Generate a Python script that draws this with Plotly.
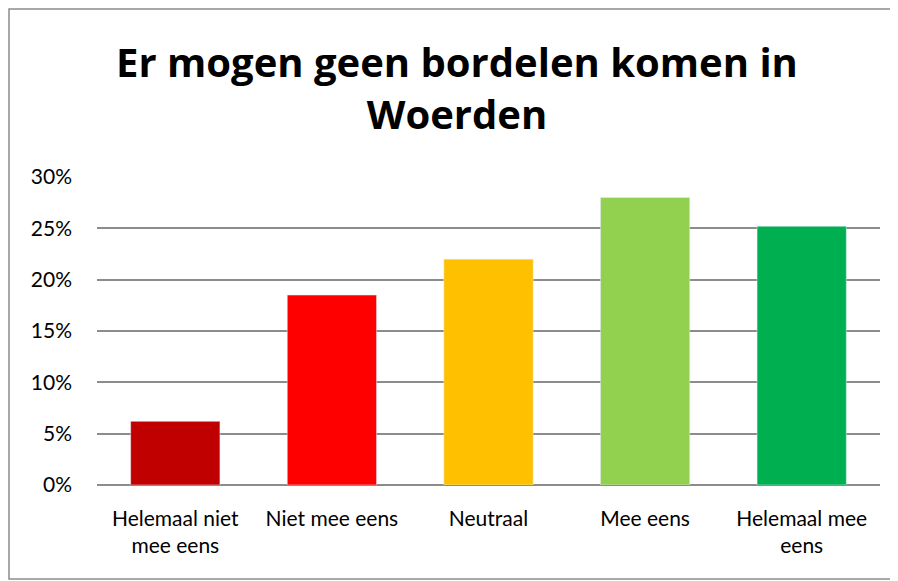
import plotly.graph_objects as go

categories = ["Helemaal niet<br>mee eens", "Niet mee eens", "Neutraal", "Mee eens", "Helemaal mee<br>eens"]
values = [0.062, 0.185, 0.220, 0.280, 0.252]
colors = ["#C00000", "#FF0000", "#FFC000", "#92D050", "#00B050"]
y_ticks = [0, 0.05, 0.10, 0.15, 0.20, 0.25, 0.30]
y_labels = ["0%", "5%", "10%", "15%", "20%", "25%", "30%"]

# page has an 8px body margin, so figure coords = screen coords - 8
W, H = 898, 581
L, R, T, B = 89, 26, 169, 104
pw, ph = W - L - R, H - T - B


def px_x(x):
    return (x - L) / pw


def px_y(y):
    return (H - B - y) / ph


fig = go.Figure(go.Bar(x=categories, y=values, marker_color=colors, width=0.57))

fig.update_layout(
    width=W, height=H,
    margin=dict(l=L, r=R, t=T, b=B),
    plot_bgcolor="white", paper_bgcolor="white",
    font=dict(family="Lato", color="#000000"),
    title=dict(
        text="<b>Er mogen geen bordelen komen in<br>Woerden</b>",
        x=0.5, xanchor="center", y=1 - 69 / H, yanchor="middle",
        font=dict(size=40, family="Open Sans", color="#000000"),
    ),
    showlegend=False,
    bargap=0.43,
)
fig.update_xaxes(
    showgrid=False, showline=False, ticks="",
    tickfont=dict(size=21, family="Lato"),
    ticklabelstandoff=19,
)
fig.update_yaxes(
    range=[0, 0.30], tickvals=y_ticks, ticktext=y_labels,
    showgrid=True, gridcolor="#8C8C8C", gridwidth=1.5,
    zeroline=True, zerolinecolor="#8C8C8C", zerolinewidth=2,
    showline=False, ticks="", tickfont=dict(size=21, family="Lato"),
    ticklabelstandoff=24,
)
fig.add_shape(
    type="rect", xref="paper", yref="paper",
    x0=px_x(1), x1=px_x(888), y0=px_y(571), y1=px_y(1),
    line=dict(color="#8C8C8C", width=1.5), layer="below",
)

fig.write_html("out.html")
